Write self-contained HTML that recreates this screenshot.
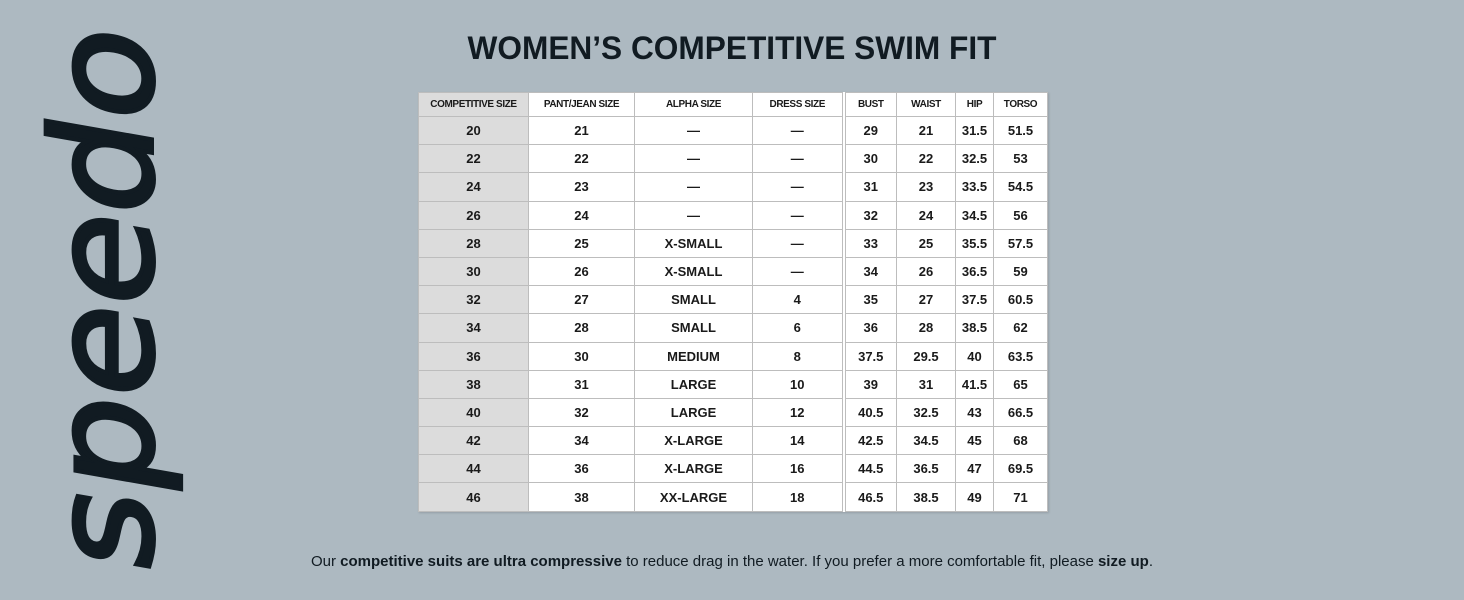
<!DOCTYPE html>
<html><head><meta charset="utf-8"><style>
html,body{margin:0;padding:0}
body{width:1464px;height:600px;background:#adb9c1;position:relative;overflow:hidden;font-family:"Liberation Sans",sans-serif;color:#111b22}
table{position:absolute;left:418px;top:92px;border-collapse:collapse;background:#fff;table-layout:fixed;box-shadow:1px 1px 2px rgba(0,0,0,0.15)}
td{border:1px solid #bdbdbd;text-align:center;font-size:13px;height:27.2px;padding:0;color:#1a1a1a;font-weight:bold}
tr.h td{height:23px;font-size:10px;font-weight:bold;letter-spacing:-0.4px}
td.c{background:#dcdcdc}
td.d{border-right:4px double #bdbdbd}
</style></head><body>
<svg width="1464" height="600" style="position:absolute;left:0;top:0">
<text x="732" y="59" text-anchor="middle" font-family="Liberation Sans" font-weight="bold" font-size="32" fill="#111b22" textLength="529" lengthAdjust="spacingAndGlyphs">WOMEN’S COMPETITIVE SWIM FIT</text>
<text transform="translate(152,575) rotate(-90) skewX(-10)" font-family="DejaVu Sans" font-size="140" fill="#111b22" stroke="#111b22" stroke-width="4" textLength="540" lengthAdjust="spacingAndGlyphs">speedo</text>
<text x="311" y="566" font-family="Liberation Sans" font-size="14.5" fill="#111b22" textLength="842" lengthAdjust="spacingAndGlyphs">Our <tspan font-weight="bold">competitive suits are ultra compressive</tspan> to reduce drag in the water. If you prefer a more comfortable fit, please <tspan font-weight="bold">size up</tspan>.</text>
</svg>
<table>
<colgroup><col style="width:110px"><col style="width:106px"><col style="width:118px"><col style="width:91px"><col style="width:53px"><col style="width:59px"><col style="width:38px"><col style="width:54px"></colgroup>
<tr class="h"><td class="c">COMPETITIVE SIZE</td><td>PANT/JEAN SIZE</td><td>ALPHA SIZE</td><td class="d">DRESS SIZE</td><td>BUST</td><td>WAIST</td><td>HIP</td><td>TORSO</td></tr>
<tr><td class="c">20</td><td>21</td><td>—</td><td class="d">—</td><td>29</td><td>21</td><td>31.5</td><td>51.5</td></tr>
<tr><td class="c">22</td><td>22</td><td>—</td><td class="d">—</td><td>30</td><td>22</td><td>32.5</td><td>53</td></tr>
<tr><td class="c">24</td><td>23</td><td>—</td><td class="d">—</td><td>31</td><td>23</td><td>33.5</td><td>54.5</td></tr>
<tr><td class="c">26</td><td>24</td><td>—</td><td class="d">—</td><td>32</td><td>24</td><td>34.5</td><td>56</td></tr>
<tr><td class="c">28</td><td>25</td><td>X-SMALL</td><td class="d">—</td><td>33</td><td>25</td><td>35.5</td><td>57.5</td></tr>
<tr><td class="c">30</td><td>26</td><td>X-SMALL</td><td class="d">—</td><td>34</td><td>26</td><td>36.5</td><td>59</td></tr>
<tr><td class="c">32</td><td>27</td><td>SMALL</td><td class="d">4</td><td>35</td><td>27</td><td>37.5</td><td>60.5</td></tr>
<tr><td class="c">34</td><td>28</td><td>SMALL</td><td class="d">6</td><td>36</td><td>28</td><td>38.5</td><td>62</td></tr>
<tr><td class="c">36</td><td>30</td><td>MEDIUM</td><td class="d">8</td><td>37.5</td><td>29.5</td><td>40</td><td>63.5</td></tr>
<tr><td class="c">38</td><td>31</td><td>LARGE</td><td class="d">10</td><td>39</td><td>31</td><td>41.5</td><td>65</td></tr>
<tr><td class="c">40</td><td>32</td><td>LARGE</td><td class="d">12</td><td>40.5</td><td>32.5</td><td>43</td><td>66.5</td></tr>
<tr><td class="c">42</td><td>34</td><td>X-LARGE</td><td class="d">14</td><td>42.5</td><td>34.5</td><td>45</td><td>68</td></tr>
<tr><td class="c">44</td><td>36</td><td>X-LARGE</td><td class="d">16</td><td>44.5</td><td>36.5</td><td>47</td><td>69.5</td></tr>
<tr><td class="c">46</td><td>38</td><td>XX-LARGE</td><td class="d">18</td><td>46.5</td><td>38.5</td><td>49</td><td>71</td></tr>
</table>
</body></html>
